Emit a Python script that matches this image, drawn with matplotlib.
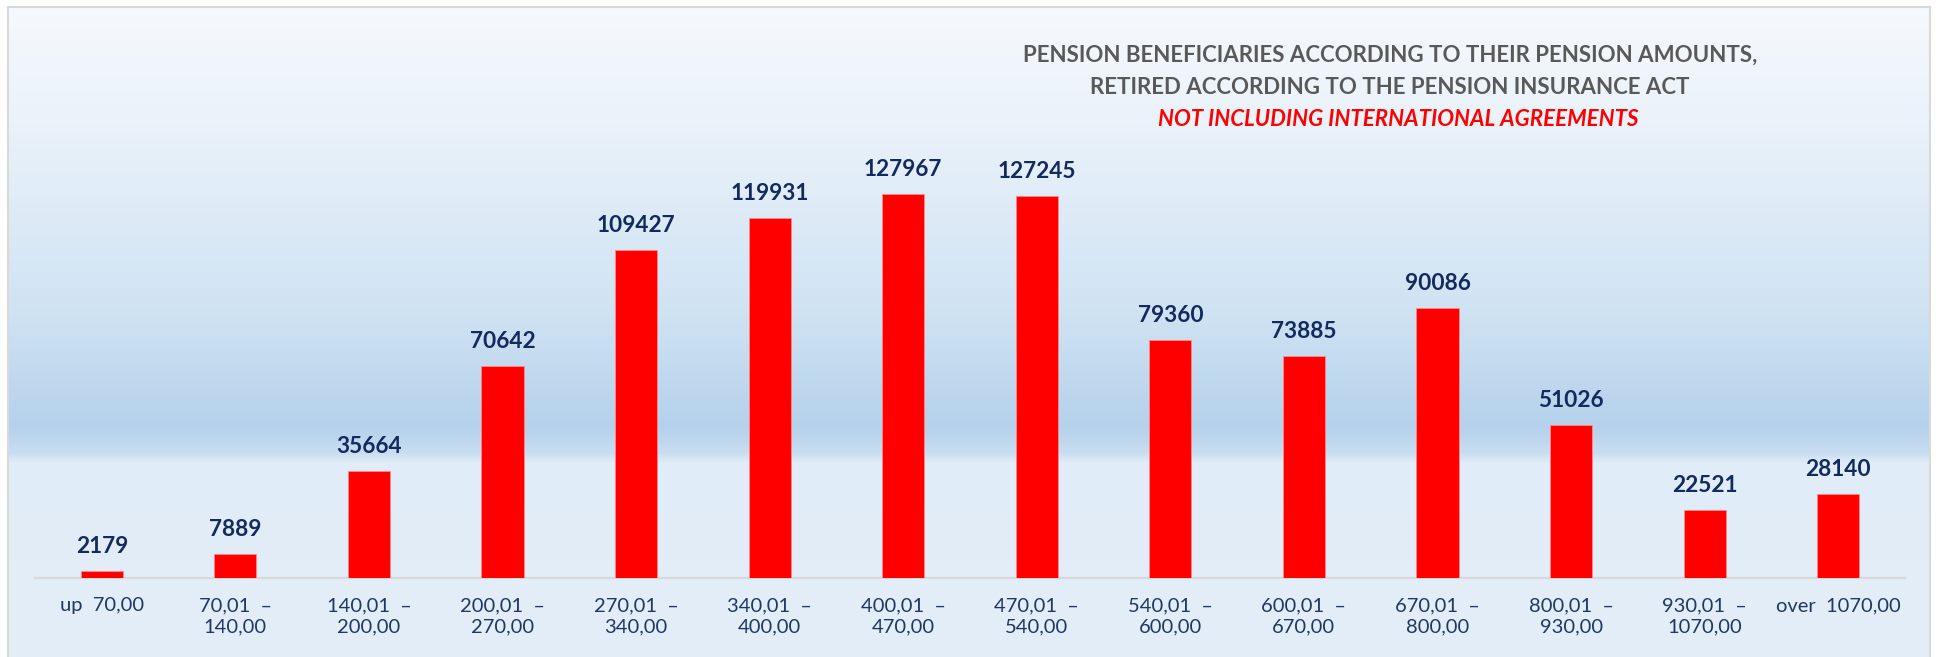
import matplotlib
matplotlib.use("Agg")
import matplotlib.pyplot as plt
import numpy as np
from matplotlib.colors import to_rgb

categories = ["up  70,00", "70,01  –\n140,00", "140,01  –\n200,00", "200,01  –\n270,00",
              "270,01  –\n340,00", "340,01  –\n400,00", "400,01  –\n470,00", "470,01  –\n540,00",
              "540,01  –\n600,00", "600,01  –\n670,00", "670,01  –\n800,00", "800,01  –\n930,00",
              "930,01  –\n1070,00", "over  1070,00"]
values = [2179, 7889, 35664, 70642, 109427, 119931, 127967, 127245,
          79360, 73885, 90086, 51026, 22521, 28140]
title_lines = ["PENSION BENEFICIARIES ACCORDING TO THEIR PENSION AMOUNTS,",
               "RETIRED ACCORDING TO THE PENSION INSURANCE ACT"]
subtitle = "NOT INCLUDING INTERNATIONAL AGREEMENTS"

W, H = 1936, 657
DPI = 100
plt.rcParams['font.family'] = ['Lato', 'DejaVu Sans']

fig = plt.figure(figsize=(W / DPI, H / DPI), dpi=DPI)
fig.patch.set_facecolor("white")

# background gradient inside frame
bg = fig.add_axes([0, 0, 1, 1], zorder=-5)
bg.set_axis_off()
stops_y = [0, 7, 123, 309, 426, 452, 462, 657]
stops_c = ["#f6f9fd", "#f6f9fd", "#eaf2fa", "#d0e3f3", "#b5d1ec", "#c8ddf1", "#e0ecf7", "#e4eef8"]
ys = np.arange(H)
cols = np.array([to_rgb(c) for c in stops_c])
grad = np.stack([np.interp(ys, stops_y, cols[:, k]) for k in range(3)], axis=-1)
img = np.repeat(grad[:, None, :], W, axis=1)
x0, y0, x1 = 8, 7, 1930
img[:, :x0, :] = 1.0
img[:, x1:, :] = 1.0
img[:y0, :, :] = 1.0
bg.imshow(img, extent=[0, W, H, 0], aspect="auto", interpolation="nearest")
bg.set_xlim(0, W)
bg.set_ylim(H, 0)
bg.plot([x0, x0, x1, x1], [H + 5, y0, y0, H + 5], color="#d9d9d9", lw=1.5, solid_joinstyle="miter")

# main axes
left, right = 35 / W, 1905 / W
base_y = 578
ax = fig.add_axes([left, 1 - base_y / H, right - left, 420 / H])
ax.patch.set_alpha(0)
x = np.arange(len(values))
ax.bar(x, values, width=0.315, color="#ff0000", edgecolor="#ff8a8a", linewidth=0.6, zorder=3)
ax.set_xlim(-0.5, len(values) - 0.5)
ax.set_ylim(0, 140000)
for s in ["top", "left", "right"]:
    ax.spines[s].set_visible(False)
ax.spines["bottom"].set_color("#d9d9d9")
ax.spines["bottom"].set_linewidth(1.6)
ax.set_yticks([])
ax.set_xticks(x)
ax.set_xticklabels(categories, fontsize=14.5, color="#1f3864", linespacing=1.3)
ax.tick_params(axis="x", length=0, pad=14)

for xi, v in zip(x, values):
    ax.annotate(f"{v}", (xi, v), xytext=(0, 18), textcoords="offset pixels",
                ha="center", va="baseline", fontsize=16.3, fontweight="bold", color="#122a5e")

cx = 1390 / W
fig.text(cx, 1 - 55 / H, title_lines[0], ha="center", va="center", fontsize=16,
         fontweight="bold", color="#595959")
fig.text(cx, 1 - 87 / H, title_lines[1], ha="center", va="center", fontsize=16,
         fontweight="bold", color="#595959")
fig.text(cx + 8 / W, 1 - 119 / H, subtitle, ha="center", va="center", fontsize=16,
         fontweight="bold", style="italic", color="#ff0000")

fig.savefig("out.png", dpi=DPI)
